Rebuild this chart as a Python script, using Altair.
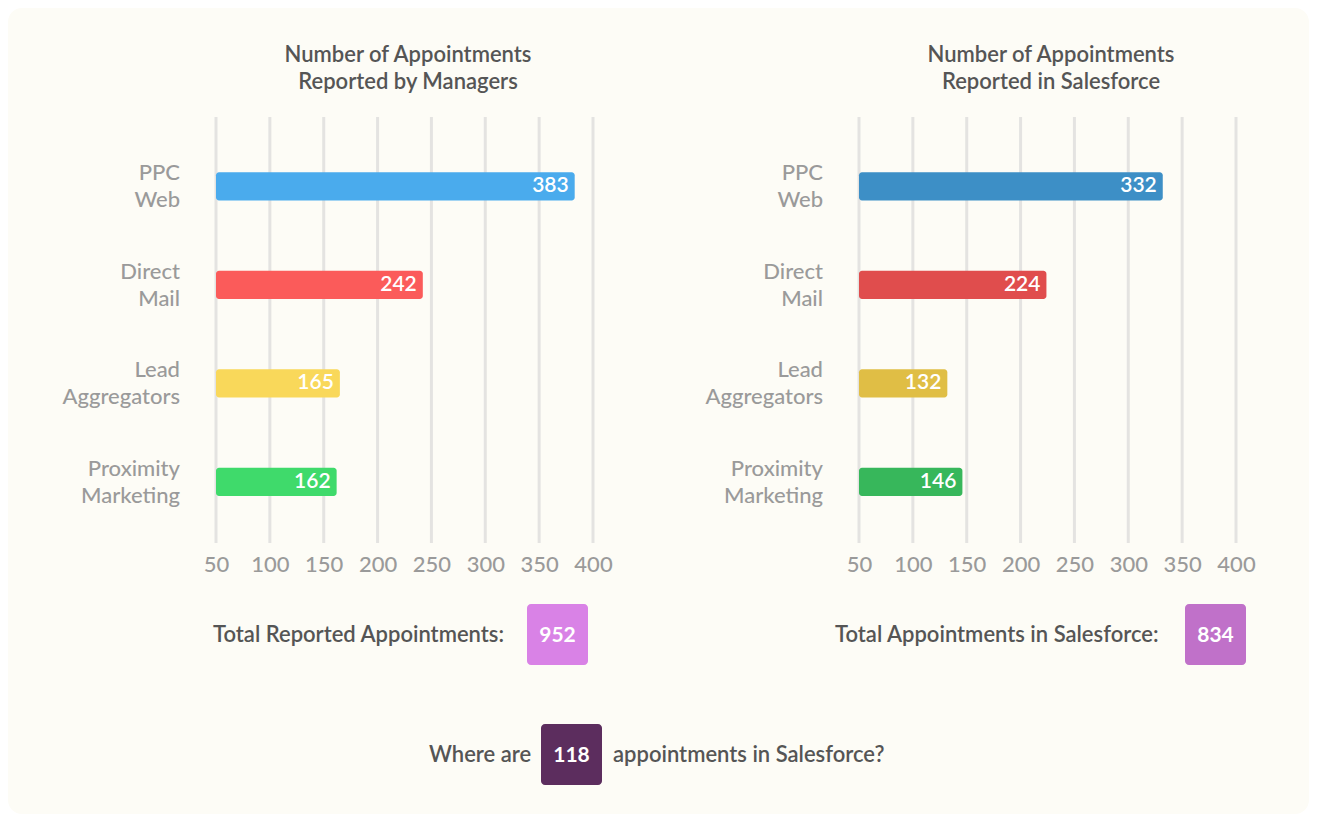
import altair as alt
import pandas as pd

# ---- data ----
categories = ["PPC Web", "Direct Mail", "Lead Aggregators", "Proximity Marketing"]
manager_counts = [383, 242, 165, 162]
salesforce_counts = [332, 224, 132, 146]
manager_colors = ["#4aabed", "#fb5b5a", "#f9d85a", "#3fda6b"]
salesforce_colors = ["#3d8fc6", "#e04d4d", "#e0be45", "#37b75b"]
tick_values = [50, 100, 150, 200, 250, 300, 350, 400]
axis_domain = [50, 400]
left_title = ["Number of Appointments", "Reported by Managers"]
right_title = ["Number of Appointments", "Reported in Salesforce"]
left_total_label = "Total Reported Appointments:"
right_total_label = "Total Appointments in Salesforce:"
question_parts = ["Where are", "appointments in Salesforce?"]

manager_total = sum(manager_counts)          # 952
salesforce_total = sum(salesforce_counts)    # 834
missing_total = manager_total - salesforce_total  # 118

FONT = "Lato"
W, H = 377, 426
DARK = "#555555"
GRAY = "#9a9a9a"
TXT = 22


def one(text):
    return pd.DataFrame({"text": [text]})


def text_layer(text, x, y, size=TXT, color=DARK, weight=600, align="left"):
    return alt.Chart(one(text)).mark_text(
        align=align, baseline="middle", font=FONT, fontSize=size,
        fontWeight=weight, color=color
    ).encode(text="text:N", x=alt.value(x), y=alt.value(y))


def box_layer(value, x0, y0, color, size=61):
    box = alt.Chart(one(str(value))).mark_rect(color=color, cornerRadius=4).encode(
        x=alt.value(x0), x2=alt.value(x0 + size),
        y=alt.value(y0), y2=alt.value(y0 + size))
    lbl = alt.Chart(one(str(value))).mark_text(
        align="center", baseline="middle", font=FONT, fontSize=21,
        fontWeight=700, color="white"
    ).encode(text="text:N", x=alt.value(x0 + size / 2), y=alt.value(y0 + size / 2 + 1))
    return [box, lbl]


def panel(counts, colors, title_lines, total_label, total_value, total_color,
          total_text_x, box_x, extra=()):
    df = pd.DataFrame({
        "category": categories,
        "value": counts,
        "color": colors,
        "line1": [c.split(" ")[0] for c in categories],
        "line2": [c.split(" ")[1] for c in categories],
    })
    xscale = alt.Scale(domain=axis_domain, nice=False, zero=False)
    xaxis = alt.Axis(values=tick_values, grid=False, domain=False, ticks=False,
                     tickSize=0, labelFont=FONT, labelFontSize=TXT, labelColor=GRAY,
                     labelFontWeight=500, labelPadding=11, labelFlush=False,
                     labelOverlap=False, zindex=1)
    y = alt.Y("category:N", sort=categories, axis=None,
              scale=alt.Scale(paddingInner=0.715, paddingOuter=0.52, align=0.54))
    grid = alt.Chart(pd.DataFrame({"tick": tick_values})).mark_rule(
        color="#e4e3e1", strokeWidth=3).encode(
        x=alt.X("tick:Q", title=None, scale=xscale, axis=xaxis),
        y=alt.value(0), y2=alt.value(H))
    base = alt.Chart(df).encode(y=y)
    bars = base.mark_bar(cornerRadiusEnd=3).encode(
        x=alt.X("value:Q", title=None, scale=xscale, axis=xaxis),
        x2=alt.datum(axis_domain[0]), color=alt.Color("color:N", scale=None))
    vals = base.mark_text(align="right", baseline="middle", dx=-6, font=FONT,
                          fontSize=21, fontWeight=600, color="white").encode(
        x="value:Q", text="value:Q")
    lab1 = base.mark_text(align="right", baseline="middle", dy=-13, font=FONT,
                          fontSize=TXT, fontWeight=500, color=GRAY).encode(
        x=alt.value(-36), text="line1:N")
    lab2 = base.mark_text(align="right", baseline="middle", dy=14, font=FONT,
                          fontSize=TXT, fontWeight=500, color=GRAY).encode(
        x=alt.value(-36), text="line2:N")
    t1 = text_layer(title_lines[0], 192, -62, align="center")
    t2 = text_layer(title_lines[1], 192, -35, align="center")
    tot = text_layer(total_label, total_text_x, 518)
    layers = list(extra) + [grid, bars, vals, lab1, lab2, t1, t2, tot] + \
        box_layer(total_value, box_x, 487, total_color)
    return alt.layer(*layers).properties(width=W, height=H)


background = alt.Chart(one("")).mark_rect(color="#fdfcf6", cornerRadius=14).encode(
    x=alt.value(-208), x2=alt.value(1093), y=alt.value(-109), y2=alt.value(697))

question = [
    text_layer(question_parts[0], 213, 638),
    text_layer(question_parts[1], 397, 638),
] + box_layer(missing_total, 325, 607, "#5c2d5e")

left = panel(manager_counts, manager_colors, left_title, left_total_label,
             manager_total, "#d982e6", -3, 311, extra=[background] + question)
right = panel(salesforce_counts, salesforce_colors, right_title, right_total_label,
              salesforce_total, "#c071c9", -24, 326)

chart = alt.hconcat(left, right, spacing=266, bounds="flush", padding=0).configure(
    background="white").configure_view(strokeWidth=0)

chart.save("out.html", embed_options={"renderer": "svg", "actions": False})
